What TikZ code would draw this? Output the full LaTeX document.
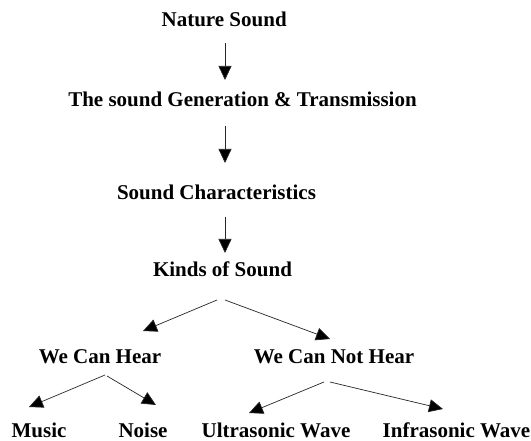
\documentclass[tikz,border=0pt]{standalone}
\usepackage{fontspec}
\setmainfont{Liberation Serif}
\usetikzlibrary{arrows.meta}
\begin{document}
\begin{tikzpicture}[x=1pt,y=-1pt,
  lbl/.style={anchor=base,inner sep=0pt,font=\bfseries\fontsize{21}{25}\selectfont},
  arr/.style={draw=black!85,line width=0.7pt,-{Triangle[length=14pt,width=13pt,fill=black]}}]
\useasboundingbox[fill=white] (0,0) rectangle (531,441);
\node[lbl] (ns) at (224.2,26.7) {Nature Sound};
\node[lbl] (gt) at (242.5,107) {The sound Generation \& Transmission};
\node[lbl] (sc) at (216.5,200) {Sound Characteristics};
\node[lbl] (ks) at (222.5,277) {Kinds of Sound};
\node[lbl] (wh) at (100,363) {We Can Hear};
\node[lbl] (wn) at (334,363) {We Can Not Hear};
\node[lbl] (mu) at (39,437) {Music};
\node[lbl] (no) at (143,437) {Noise};
\node[lbl] (uw) at (276,437) {Ultrasonic Wave};
\node[lbl] (iw) at (456.5,437) {Infrasonic Wave};
% arrow end points
\coordinate (a1s) at (225,43);  \coordinate (a1e) at (225,80);
\coordinate (a2s) at (225,126); \coordinate (a2e) at (225,163);
\coordinate (a3s) at (225,217); \coordinate (a3e) at (225,253);
\coordinate (b1s) at (217,300); \coordinate (b1e) at (143,331);
\coordinate (b2s) at (225,300); \coordinate (b2e) at (330,339);
\coordinate (c1s) at (105,375); \coordinate (c1e) at (29,407);
\coordinate (c2s) at (107,376); \coordinate (c2e) at (156,405);
\coordinate (d1s) at (324,382); \coordinate (d1e) at (249,413);
\coordinate (d2s) at (330,382); \coordinate (d2e) at (443,409);
\draw[arr] (a1s) -- (a1e);
\draw[arr] (a2s) -- (a2e);
\draw[arr] (a3s) -- (a3e);
\draw[arr] (b1s) -- (b1e);
\draw[arr] (b2s) -- (b2e);
\draw[arr] (c1s) -- (c1e);
\draw[arr] (c2s) -- (c2e);
\draw[arr] (d1s) -- (d1e);
\draw[arr] (d2s) -- (d2e);
\end{tikzpicture}
\end{document}
